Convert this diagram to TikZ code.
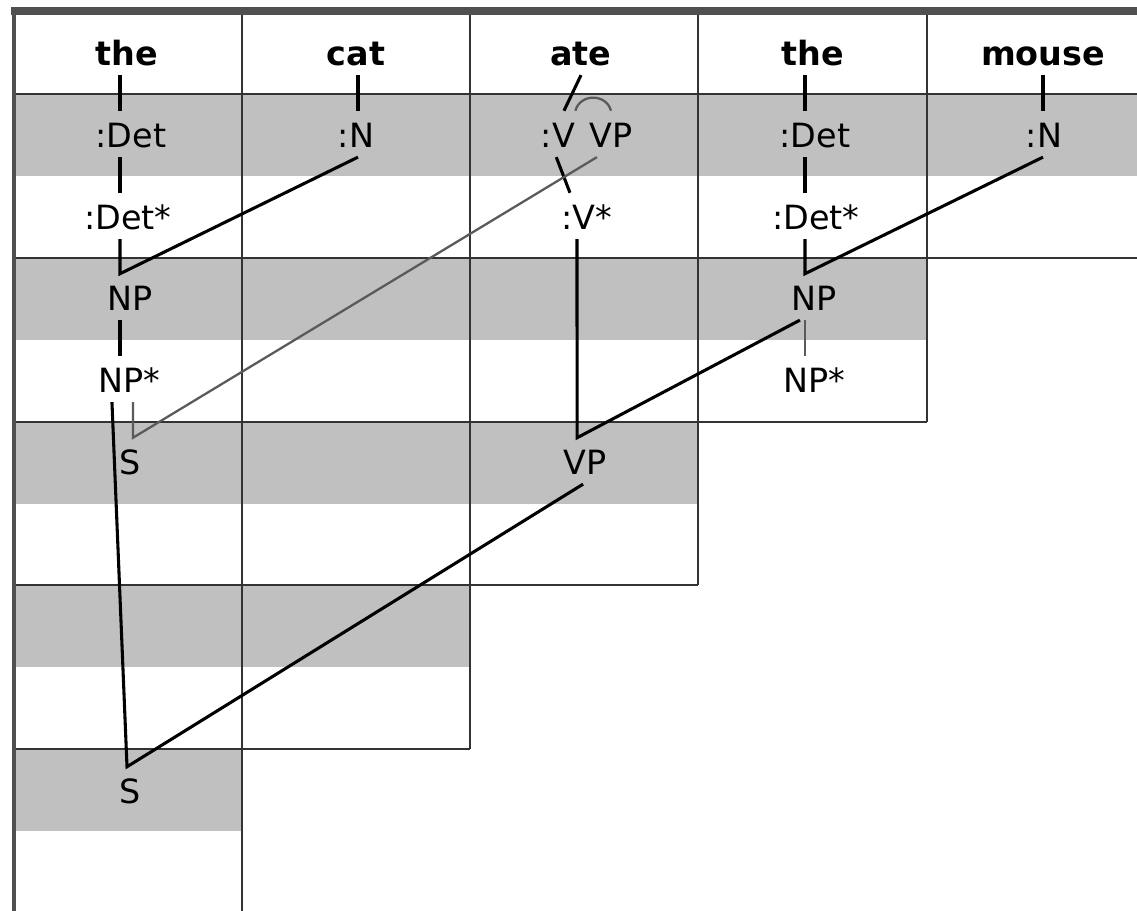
\documentclass[tikz,border=0pt]{standalone}
\usepackage{fontspec}
\setmainfont{DejaVu Sans}
\definecolor{bandgray}{RGB}{192,192,192}
\definecolor{rulegray}{RGB}{80,80,80}
\definecolor{linkgray}{RGB}{90,90,90}

\begin{document}
\begin{tikzpicture}[x=0.02cm,y=0.02cm,
  lbl/.style={font=\fontsize{19}{23}\selectfont,inner sep=0pt,text height=21pt,text depth=5pt,anchor=base},
  word/.style={lbl,font=\fontsize{19}{23}\selectfont\bfseries},
  link/.style={line width=1.75pt},
  hint/.style={line width=1.3pt,linkgray},
  grid/.style={line width=0.9pt,black!80}]

\useasboundingbox (0,0) rectangle (1137,-911);

% Shaded upper halves of the chart cells
\foreach \r/\xr in {94/1137,258/927,422/698,585/470,749/242}
  \fill[bandgray] (13,-\r) rectangle (\xr,{-\r-82});

% Cell borders (staircase)
\foreach \r/\xr in {94/1137,258/1137,422/927,585/698,749/470}
  \draw[grid] (13,-\r) -- (\xr,-\r);
\foreach \c/\yb in {242/911,470/749,698/585,927/422}
  \draw[grid] (\c,-14) -- (\c,-\yb);

% Heavy top rule and left edge
\fill[rulegray] (11,-7) rectangle (1137,-15);
\draw[rulegray,line width=2.2pt] (14,-7) -- (14,-911);

% Column spines
\coordinate (sp1) at (120,0);
\coordinate (sp2) at (358,0);
\coordinate (sp4) at (805,0);
\coordinate (sp5) at (1043,0);

% Words
\node[word] (w1) at (127,-66) {the};
\node[word] (w2) at (356,-66) {cat};
\node[word] (w3) at (581,-66) {ate};
\node[word] (w4) at (813,-66) {the};
\node[word] (w5) at (1043,-66) {mouse};

% Lexical categories
\node[lbl] (det1) at (131,-148) {:Det};
\node[lbl] (n2) at (356,-148) {:N};
\node[lbl] (v3) at (558,-148) {:V};
\node[lbl] (vp3) at (611,-148) {VP};
\node[lbl] (det4) at (815,-148) {:Det};
\node[lbl] (n5) at (1044,-148) {:N};
\node[lbl] (dets1) at (128,-230) {:Det*};
\node[lbl] (vs3) at (587,-230) {:V*};
\node[lbl] (dets4) at (816,-230) {:Det*};

% Phrases over two words
\node[lbl] (np1) at (130,-311) {NP};
\node[lbl] (nps1) at (129,-393) {NP*};
\node[lbl] (np4) at (814,-311) {NP};
\node[lbl] (nps4) at (814,-393) {NP*};

% Longer spans
\node[lbl] (s1) at (130,-475) {S};
\node[lbl] (vp3b) at (585,-475) {VP};
\node[lbl] (s1b) at (130,-804) {S};

% the cat
\draw[link] (w1.south -| sp1) -- (det1.north -| sp1);
\draw[link] (det1.south -| sp1) -- (dets1.north -| sp1);
\draw[link] (w2.south -| sp2) -- (n2.north -| sp2);
\draw[link] (dets1.south -| sp1) -- (np1.north -| sp1) -- (n2.south -| sp2);
\draw[link] (np1.south -| sp1) -- (nps1.north -| sp1);

% ate
\draw[link] (w3.south) -- ([xshift=3.4pt]v3.north);
\draw[hint] (v3.north east) to[out=75,in=105,looseness=1.3] (vp3.north);
\draw[link] ([xshift=-1pt]v3.south) -- ([xshift=-9.7pt]vs3.north);
\draw[link] ([xshift=-5.7pt]vs3.south) -- ([xshift=-4.5pt]vp3b.north) -- ([xshift=-8pt]np4.south);

% the mouse
\draw[link] (w4.south -| sp4) -- (det4.north -| sp4);
\draw[link] (det4.south -| sp4) -- (dets4.north -| sp4);
\draw[link] (w5.south -| sp5) -- (n5.north -| sp5);
\draw[link] (dets4.south -| sp4) -- (np4.north -| sp4) -- (n5.south -| sp5);
\draw[hint] (np4.south -| sp4) -- (nps4.north -| sp4);

% S predicted after NP*, then the full S
\draw[hint] ([xshift=2.3pt]nps1.south) -- ([xshift=1.7pt]s1.north) -- ([xshift=-8pt]vp3.south);
\draw[link] ([xshift=-9.7pt]nps1.south) -- ([xshift=-1.7pt]s1b.north) -- ([xshift=-1.1pt]vp3b.south);

\end{tikzpicture}
\end{document}
